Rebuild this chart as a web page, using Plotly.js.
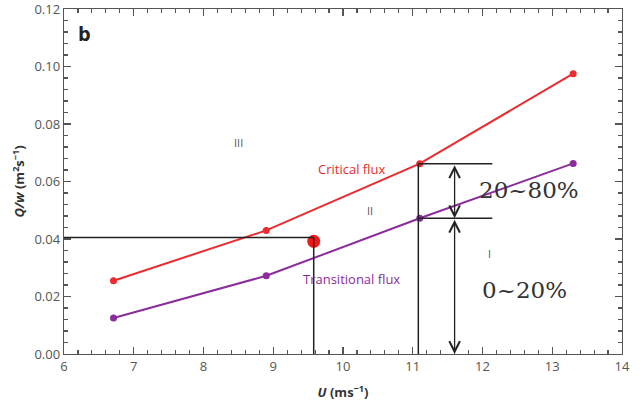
<!DOCTYPE html>
<html><head><meta charset="utf-8">
<script src="https://cdn.plot.ly/plotly-3.0.1.min.js"></script>
<style>body{margin:0;background:#fff}#c{width:642px;height:412px}</style>
</head><body><div id="c"></div>
<script>
// Data
const windSpeed = [6.71, 8.9, 11.1, 13.3];
const criticalFlux = [0.0255, 0.043, 0.0662, 0.0975];
const transitionalFlux = [0.0125, 0.0272, 0.0472, 0.0663];
const markedPointX = [9.58];
const markedPointY = [0.0392];
const xTicks = [6, 7, 8, 9, 10, 11, 12, 13, 14];
const yTicks = [0, 0.02, 0.04, 0.06, 0.08, 0.10, 0.12];
// guide lines
const guideY = 0.0405;
const guideX = 9.58;
const bracketX = 11.08;
const bracketEndX = 12.14;
const arrowX = 11.6;

const red = '#ec2b2e', purple = '#8b2c9c', ink = '#222';

const traces = [
  {x: windSpeed, y: criticalFlux, mode: 'lines+markers', line: {color: red, width: 2}, marker: {color: red, size: 7}, hoverinfo: 'skip'},
  {x: windSpeed, y: transitionalFlux, mode: 'lines+markers', line: {color: purple, width: 2}, marker: {color: purple, size: 7}, hoverinfo: 'skip'},
  {x: markedPointX, y: markedPointY, mode: 'markers', marker: {color: '#f01818', size: 13}, hoverinfo: 'skip'}
];

const ln = {color: ink, width: 1.5};
const shapes = [
  {type: 'line', xref: 'x', yref: 'y', x0: 6, x1: guideX, y0: guideY, y1: guideY, line: ln},
  {type: 'line', xref: 'x', yref: 'y', x0: guideX, x1: guideX, y0: guideY, y1: 0, line: ln},
  {type: 'line', xref: 'x', yref: 'y', x0: bracketX, x1: bracketX, y0: criticalFlux[2], y1: 0, line: ln},
  {type: 'line', xref: 'x', yref: 'y', x0: bracketX, x1: bracketEndX, y0: criticalFlux[2], y1: criticalFlux[2], line: ln},
  {type: 'line', xref: 'x', yref: 'y', x0: bracketX, x1: bracketEndX, y0: transitionalFlux[2], y1: transitionalFlux[2], line: ln}
];

const arrow = (y0, y1) => ({x: arrowX, y: y1, ax: arrowX, ay: y0, xref: 'x', yref: 'y', axref: 'x', ayref: 'y',
  text: '', showarrow: true, arrowhead: 5, startarrowhead: 5, arrowside: 'end+start', arrowsize: 1.6, arrowwidth: 1.3, arrowcolor: ink});

const serif = {family: 'DejaVu Serif, serif', size: 23, color: '#333'};
const small = {family: 'Open Sans, sans-serif', size: 11, color: '#555'};
const annotations = [
  arrow(criticalFlux[2], transitionalFlux[2]),
  arrow(transitionalFlux[2], 0),
  {x: 12.67, y: 0.0570, xref: 'x', yref: 'y', text: '20~80%', showarrow: false, font: serif},
  {x: 12.6, y: 0.0222, xref: 'x', yref: 'y', text: '0~20%', showarrow: false, font: serif},
  {x: 8.5, y: 0.0735, xref: 'x', yref: 'y', text: 'III', showarrow: false, font: small},
  {x: 10.38, y: 0.0500, xref: 'x', yref: 'y', text: 'II', showarrow: false, font: small},
  {x: 12.1, y: 0.0350, xref: 'x', yref: 'y', text: 'I', showarrow: false, font: small},
  {x: 10.12, y: 0.0645, xref: 'x', yref: 'y', text: 'Critical flux', showarrow: false, font: {family: 'Open Sans, sans-serif', size: 13, color: red}},
  {x: 10.12, y: 0.0262, xref: 'x', yref: 'y', text: 'Transitional flux', showarrow: false, font: {family: 'Open Sans, sans-serif', size: 13, color: purple}},
  {x: 0.022, y: 0.975, xref: 'paper', yref: 'paper', xanchor: 'left', yanchor: 'top', text: '<b>b</b>', showarrow: false, font: {family: 'Open Sans, sans-serif', size: 20, color: '#222'}}
];

const axisCommon = {
  showgrid: false, zeroline: false, showline: true, mirror: 'ticks', linecolor: '#555', linewidth: 1.3,
  ticks: 'inside', ticklen: 7, tickwidth: 1.3, tickcolor: '#555',
  tickfont: {family: 'Open Sans, sans-serif', size: 13, color: '#555'}
};

const layout = {
  width: 642, height: 412,
  margin: {l: 64, r: 20, t: 9, b: 58},
  paper_bgcolor: '#fff', plot_bgcolor: '#fff',
  showlegend: false,
  xaxis: Object.assign({}, axisCommon, {
    range: [6, 14], tickvals: xTicks, ticktext: xTicks.map(String),
    minor: {dtick: 0.2, ticks: 'inside', ticklen: 4, tickcolor: '#555', tickwidth: 1.1},
    title: {text: '<b><i>U</i> (ms<sup>−1</sup>)</b>', font: {family: 'Open Sans, sans-serif', size: 13, color: '#333'}, standoff: 14}
  }),
  yaxis: Object.assign({}, axisCommon, {
    range: [0, 0.12001], tickvals: yTicks, ticktext: yTicks.map(v => v.toFixed(2)),
    minor: {dtick: 0.004, ticks: 'inside', ticklen: 4, tickcolor: '#555', tickwidth: 1.1},
    title: {text: '<b><i>Q/w</i> (m<sup>2</sup>s<sup>−1</sup>)</b>', font: {family: 'Open Sans, sans-serif', size: 13, color: '#333'}, standoff: 6}
  }),
  shapes: shapes,
  annotations: annotations
};

const gd = document.getElementById('c');
Plotly.newPlot(gd, traces, layout, {staticPlot: true, displayModeBar: false}).then(() => {
  // Plotly hides the top tick label because its box touches the page edge; show it again
  gd.querySelectorAll('.ytick text, .xtick text').forEach(t => { t.style.display = ''; t.removeAttribute('display'); });
});
</script></body></html>
